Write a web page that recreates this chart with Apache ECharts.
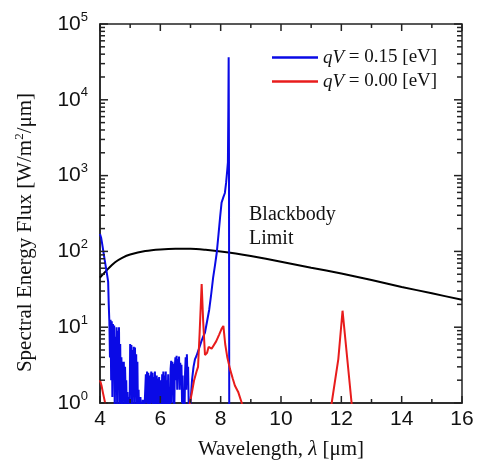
<!DOCTYPE html>
<html><head><meta charset="utf-8">
<script src="https://cdn.jsdelivr.net/npm/echarts@6.0.0/dist/echarts.min.js"></script>
<style>html,body{margin:0;padding:0;background:#fff}#c{width:477px;height:465px}</style>
</head><body><div id="c"></div>
<script>
// ---- data ----
const seriesNames = ['qV = 0.15 [eV]', 'qV = 0.00 [eV]', 'Blackbody Limit'];
const xTickLabels = ['4', '6', '8', '10', '12', '14', '16'];
const yTickExponents = ['0', '1', '2', '3', '4', '5'];

const blueWavelength = [4.00,4.04,4.08,4.12,4.16,4.20,4.24,4.27,4.29,4.31,4.33,4.35,4.37,4.39,4.41,4.43,4.45,4.47,4.49,4.51,4.53,4.55,4.57,4.59,4.61,4.63,4.65,4.67,4.69,4.71,4.73,4.75,4.77,4.79,4.81,4.83,4.85,4.87,4.89,4.91,4.93,4.96,4.98,5.00,5.02,5.04,5.06,5.08,5.10,5.12,5.14,5.16,5.18,5.20,5.22,5.24,5.26,5.28,5.30,5.34,5.38,5.42,5.46,5.50,5.52,5.54,5.56,5.58,5.60,5.62,5.64,5.66,5.68,5.70,5.72,5.74,5.76,5.78,5.80,5.82,5.84,5.86,5.88,5.90,5.92,5.94,5.96,5.98,6.00,6.02,6.04,6.06,6.08,6.10,6.12,6.14,6.16,6.18,6.20,6.22,6.24,6.26,6.28,6.30,6.32,6.34,6.36,6.38,6.40,6.42,6.44,6.46,6.48,6.50,6.52,6.54,6.56,6.58,6.60,6.62,6.64,6.66,6.68,6.70,6.72,6.74,6.76,6.78,6.80,6.82,6.84,6.86,6.88,6.90,6.92,6.94,6.96,7.00,7.05,7.10,7.15,7.20,7.25,7.30,7.36,7.42,7.48,7.55,7.62,7.68,7.75,7.81,7.87,7.93,7.98,8.03,8.09,8.14,8.18,8.22,8.24,8.255,8.265,8.275,8.285];
const blueFlux = [170,150,120,95,75,60,48,40,20,12,4,12.5,2,12,1.2,11,3,10.5,0.6,7.5,2,10,0.6,9,1.5,10,0.6,6,1,4,0.6,3.5,1.2,3.5,0.6,3,1.4,2,0.6,1.4,0.6,1.2,0.6,6,1.5,5.8,0.6,5,2,5.5,0.6,5.4,1.2,4.4,0.6,3.5,0.6,1.5,0.6,1.2,0.6,1.1,0.6,0.6,2.4,1,2.6,0.6,2.5,1.5,2.3,0.6,2,2.6,1,2.5,0.6,2.2,1.3,2.6,0.6,1.8,2.3,0.6,2.1,1,2.2,0.6,1.3,2,0.6,2.4,1.2,2.6,0.6,2.3,1.5,2.6,0.6,2,1,2.4,0.6,1.5,0.6,2.8,3.6,1,3.5,2,3.3,0.6,3,4,2,4.2,1.5,3.8,2.5,4.1,1.5,3.4,2,3.2,1,2.3,0.6,1.2,0.6,2.5,4,1.5,4.4,2,3,1,0.6,1,2,3,3.8,4.2,4.8,5.5,6.5,7.5,8.5,12,17,26,45,65,96,170,280,440,520,590,800,1200,1500,8000,36500,2000,0.5];

const redWavelength = [4.00,4.05,4.10,4.17,4.25,6.90,6.98,7.05,7.12,7.20,7.25,7.30,7.37,7.42,7.48,7.55,7.60,7.65,7.70,7.75,7.85,7.95,8.03,8.09,8.15,8.22,8.31,8.40,8.47,8.58,8.70,8.80,11.60,11.68,11.90,12.04,12.34,12.42];
const redFlux = [2.0,1.7,1.35,1.0,0.4,0.4,1.0,1.4,2.0,2.6,3.0,8,37,12,4.3,4.6,5.5,5.7,5.2,5.1,6.5,8,9.5,10.4,6,4,2.8,2.1,1.7,1.4,1.0,0.4,0.4,1.0,3.8,16.5,1.0,0.4];

const bbWavelength = [4,4.25,4.5,4.75,5,5.5,6,6.5,7,7.5,8,8.5,9,10,11,12,13,14,15,16];
const bbFlux = [45,58,72,83,91,101,106,108,108,105,100,94,87,73,61,51,42,34,28,23];

const pairs = (xs, ys) => xs.map((x, i) => [x, ys[i]]);

const axisColor = '#222';
const tickFont = '"Liberation Sans", Arial, sans-serif';
const serif = '"Liberation Serif", "Times New Roman", serif';

function yLabel(v) {
  const e = yTickExponents[Math.round(Math.log10(v))];
  return '{b|10}{s|' + e + '}';
}
function xLabel(v) {
  const i = xTickLabels.indexOf(String(v));
  return i >= 0 ? xTickLabels[i] : '';
}

const blackbodyNote = {
  type: 'text', left: 249, top: 203, silent: true,
  style: { text: 'Blackbody\nLimit', font: '20px "Liberation Serif", serif', lineHeight: 24, fill: '#111' }
};

const chart = echarts.init(document.getElementById('c'));
chart.setOption({
  animation: false,
  grid: { left: 100, right: 15, top: 24, bottom: 61, show: true, borderColor: axisColor, borderWidth: 1.5, backgroundColor: 'transparent' },
  xAxis: {
    type: 'value', min: 4, max: 16, interval: 2,
    axisLine: { show: true, lineStyle: { color: axisColor, width: 1.5 } },
    axisTick: { show: false },
    splitLine: { show: false },
    axisLabel: { show: true, margin: 6, fontSize: 21, fontFamily: tickFont, color: '#111', formatter: xLabel },
    name: 'Wavelength, {i|λ} [μm]',
    nameLocation: 'middle', nameGap: 36,
    nameTextStyle: { fontFamily: serif, fontSize: 21, color: '#111',
      rich: { i: { fontFamily: serif, fontSize: 21, fontStyle: 'italic', color: '#111' } } }
  },
  yAxis: {
    type: 'log', min: 1, max: 100000,
    axisLine: { show: true, lineStyle: { color: axisColor, width: 1.5 } },
    axisTick: { show: false },
    splitLine: { show: false },
    axisLabel: { show: true, margin: 12, formatter: yLabel,
      rich: {
        b: { fontSize: 21, fontFamily: tickFont, color: '#111' },
        s: { fontSize: 13, fontFamily: tickFont, color: '#111', padding: [0, 0, 14, 0] }
      } },
    name: 'Spectral Energy Flux [W/m{s|2}/μm]',
    nameLocation: 'middle', nameGap: 62,
    nameTextStyle: { fontFamily: serif, fontSize: 21, color: '#111', padding: [0, 38, 0, 0],
      rich: { s: { fontFamily: serif, fontSize: 13, color: '#111', padding: [0, 0, 12, 0] } } }
  },
  legend: {
    data: [seriesNames[0], seriesNames[1]],
    orient: 'vertical', left: 267, top: 43,
    icon: 'rect',
    itemWidth: 46, itemHeight: 2.5, itemGap: 5,
    formatter: name => name.replace('qV', '{i|qV}{n|') + '}',
    textStyle: {
      rich: {
        i: { fontFamily: serif, fontSize: 19, fontStyle: 'italic', color: '#111', lineHeight: 20 },
        n: { fontFamily: serif, fontSize: 19, color: '#111', lineHeight: 20 }
      }
    }
  },
  graphic: [blackbodyNote],
  series: [
    { name: seriesNames[0], type: 'line', symbol: 'none', clip: true,
      data: pairs(blueWavelength, blueFlux), lineStyle: { color: '#0a0ae6', width: 2 }, itemStyle: { color: '#0a0ae6' }, z: 3 },
    { name: seriesNames[1], type: 'line', symbol: 'none', clip: true,
      data: pairs(redWavelength, redFlux), lineStyle: { color: '#e81c1c', width: 2 }, itemStyle: { color: '#e81c1c' }, z: 4 },
    { name: seriesNames[2], type: 'line', symbol: 'none', clip: true, smooth: 0.3,
      data: pairs(bbWavelength, bbFlux), lineStyle: { color: '#000', width: 2 }, itemStyle: { color: '#000' }, z: 2 }
  ]
});

// Frame ticks (inward, on all four sides), positioned through the chart's own scales.
const xl = chart.convertToPixel({ xAxisIndex: 0 }, 4);
const xr = chart.convertToPixel({ xAxisIndex: 0 }, 16);
const yb = chart.convertToPixel({ yAxisIndex: 0 }, 1);
const yt = chart.convertToPixel({ yAxisIndex: 0 }, 100000);
const tickEls = [];
function tick(x1, y1, x2, y2) {
  tickEls.push({ type: 'line', silent: true, z: 100,
    shape: { x1: x1, y1: y1, x2: x2, y2: y2 },
    style: { stroke: axisColor, lineWidth: 1.5 } });
}
for (let x = 4; x <= 16; x += 1) {
  const px = chart.convertToPixel({ xAxisIndex: 0 }, x);
  const len = x % 2 === 0 ? 7 : 4;
  tick(px, yb, px, yb - len);
  tick(px, yt, px, yt + len);
}
for (let k = 0; k <= 5; k++) {
  for (let m = 1; m <= (k < 5 ? 9 : 1); m++) {
    const py = chart.convertToPixel({ yAxisIndex: 0 }, m * Math.pow(10, k));
    const len = m === 1 ? 8 : 5;
    tick(xl, py, xl + len, py);
    tick(xr, py, xr - len, py);
  }
}
chart.setOption({ graphic: [blackbodyNote].concat(tickEls) });
</script>
</body></html>
